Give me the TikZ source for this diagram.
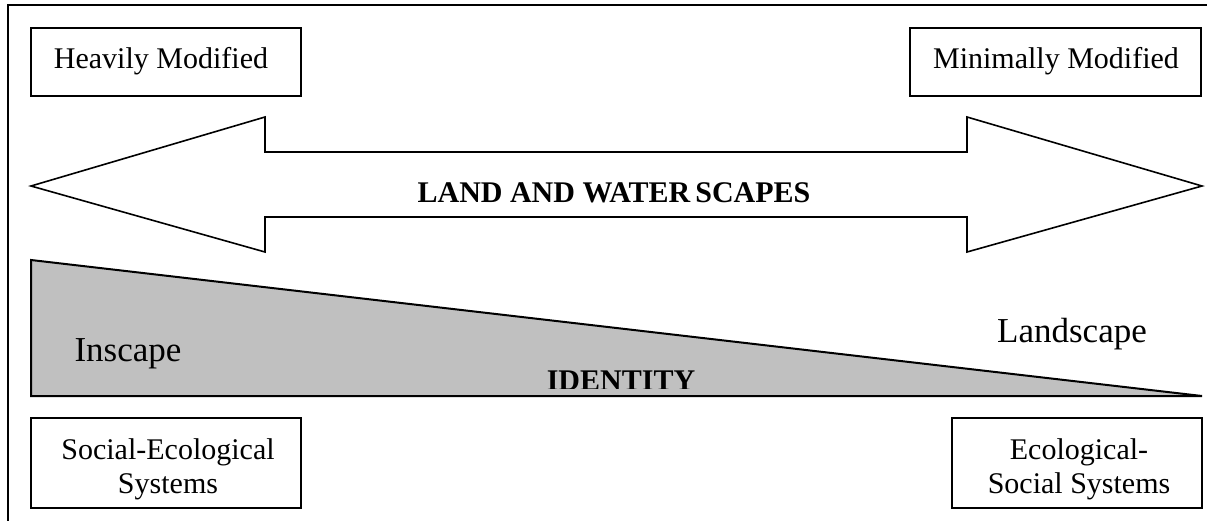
\documentclass[tikz,border=0pt]{standalone}
\usepackage{fontspec}
\setmainfont{Liberation Serif}
\definecolor{idgray}{HTML}{C0C0C0}
\begin{document}
\begin{tikzpicture}[x=1pt,y=-1pt,
  labelbox/.style={draw, line width=2.3pt, minimum width=270pt, minimum height=68pt, inner sep=0pt},
  boxtext/.style={inner sep=0pt, align=center, font=\fontsize{30}{34}\selectfont},
  bigword/.style={anchor=base, inner sep=0pt, font=\fontsize{35}{40}\selectfont},
  boldword/.style={anchor=base, inner sep=0pt, font=\bfseries\fontsize{30}{34}\selectfont},
  outline/.style={draw, line width=1.6pt, line join=miter}]
\useasboundingbox (0,0) rectangle (1207,520);
% outer frame
\draw[line width=2.5pt] (8,521) -- (8,5) -- (1208,5);
% top boxes
\node[labelbox] (hm) at (166,62) {};
\node[boxtext] (hmt) at (161,61) {Heavily Modified};
\node[labelbox, minimum width=291pt] (mm) at (1055.5,62) {};
\node[boxtext] (mmt) at (1056,61) {Minimally Modified};
% double arrow
\draw[outline] (31,186) -- (265,117) -- (265,152) -- (967,152) -- (967,117) -- (1202,186)
  -- (967,252) -- (967,217) -- (265,217) -- (265,252) -- cycle;
\node[boldword] (lw) at (614,202) {LAND AND WATER\,SCAPES};
% identity wedge
\filldraw[fill=idgray, line width=2pt, line join=miter] (31,260) -- (1202,396) -- (31,396) -- cycle;
\node[bigword] (in) at (128,361) {Inscape};
\node[bigword] (ls) at (1072,342) {Landscape};
\begin{scope}
  \clip (0,0) rectangle (1207,388);
  \node[boldword] (id) at (621,390) {IDENTITY};
\end{scope}
% bottom boxes
\node[labelbox, minimum height=90pt] (se) at (166,463) {};
\node[boxtext] (set) at (168,469) {Social-Ecological\\Systems};
\node[labelbox, minimum width=250pt, minimum height=90pt] (es) at (1077,463) {};
\node[boxtext] (est) at (1079,469) {Ecological-\\Social Systems};
\end{tikzpicture}
\end{document}
